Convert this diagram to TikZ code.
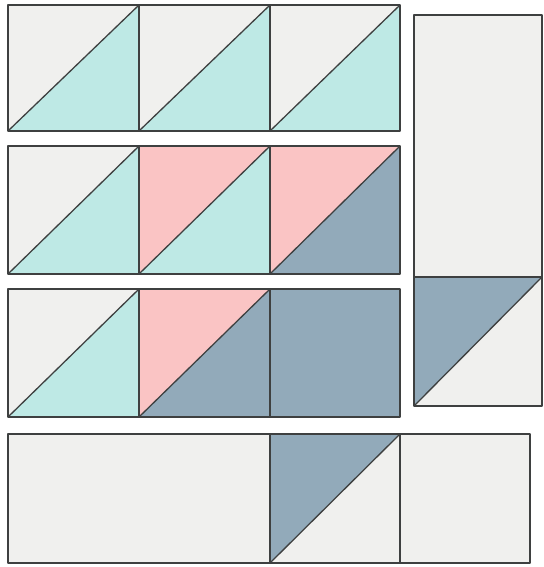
\documentclass[tikz,border=0pt]{standalone}
\definecolor{QGray}{RGB}{240,240,238}
\definecolor{QCyan}{RGB}{190,233,229}
\definecolor{QPink}{RGB}{250,196,196}
\definecolor{QSlate}{RGB}{146,170,186}
\definecolor{QLine}{RGB}{62,64,64}

\begin{document}
\begin{tikzpicture}[x=1pt, y=-1pt,
  patch/.style={draw=QLine, line width=1.3pt, line join=round}]
  \useasboundingbox[fill=white] (0,0) rectangle (543,567);
  % plain pieces
  \draw[patch, fill=QGray] (8,434) rectangle (270,563);
  \draw[patch, fill=QGray] (400,434) rectangle (530,563);
  \draw[patch, fill=QGray] (414,15) rectangle (542,277);
  \draw[patch, fill=QSlate] (270,289) rectangle (400,417);
  % half-square triangles: upper-left / lower-right colour
  \foreach \xl/\xr/\yt/\yb/\up/\lo in {
      8/139/5/131/QGray/QCyan, 139/270/5/131/QGray/QCyan, 270/400/5/131/QGray/QCyan,
      8/139/146/274/QGray/QCyan, 139/270/146/274/QPink/QCyan, 270/400/146/274/QPink/QSlate,
      8/139/289/417/QGray/QCyan, 139/270/289/417/QPink/QSlate,
      270/400/434/563/QSlate/QGray, 414/542/277/406/QSlate/QGray} {
    \fill[\up] (\xl,\yt) -- (\xr,\yt) -- (\xl,\yb) -- cycle;
    \fill[\lo] (\xr,\yt) -- (\xr,\yb) -- (\xl,\yb) -- cycle;
    \draw[patch] (\xl,\yt) rectangle (\xr,\yb);
    \draw[patch] (\xl,\yb) -- (\xr,\yt);
  }
\end{tikzpicture}
\end{document}
